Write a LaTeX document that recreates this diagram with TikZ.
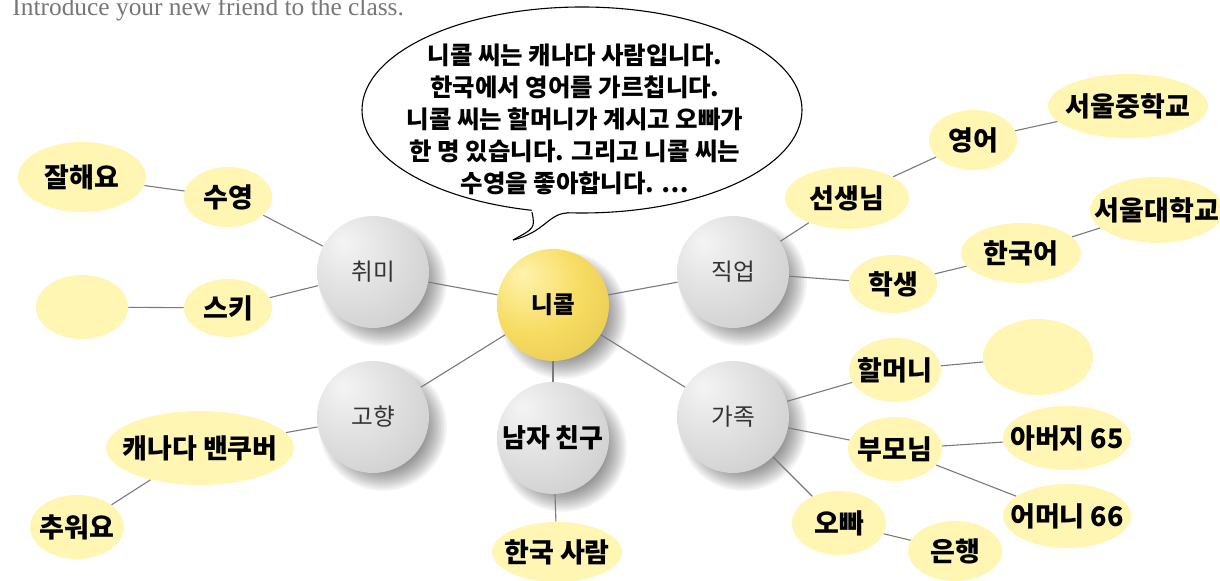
\documentclass[tikz,border=0pt]{standalone}
\usepackage{fontspec}
\setmainfont{Liberation Serif}
\newfontfamily\kr{Noto Sans CJK KR}
\usetikzlibrary{shapes.geometric}
\definecolor{ellfill}{HTML}{FFF6B4}
\definecolor{linegray}{HTML}{7A7A7A}
\definecolor{titlegray}{HTML}{777777}
\definecolor{labgray}{HTML}{333333}
\definecolor{gA}{HTML}{F4F4F4}
\definecolor{gB}{HTML}{DEDEDE}
\definecolor{gC}{HTML}{C4C4C4}
\definecolor{gD}{HTML}{A6A6A6}
\definecolor{yA}{HTML}{FFF3AE}
\definecolor{yB}{HTML}{F7DC62}
\definecolor{yC}{HTML}{E0C04A}
\definecolor{yD}{HTML}{C2A235}
\pgfdeclareradialshading{graysph}{\pgfpoint{-14bp}{14bp}}{color(0bp)=(gA); color(22bp)=(gB); color(48bp)=(gC); color(68bp)=(gD)}
\pgfdeclareradialshading{yellowsph}{\pgfpoint{-14bp}{14bp}}{color(0bp)=(yA); color(22bp)=(yB); color(48bp)=(yC); color(68bp)=(yD)}
\newcommand\sphshadow[2]{\foreach \r in {20,20.75,...,32}{\fill[black,opacity=0.035] (#1+10,#2+10) circle[radius=\r pt];}}
\newcommand\lbl[1]{\makebox[0pt][c]{#1}}
\tikzset{
  leaf/.style 2 args={ellipse, fill=ellfill, inner sep=0pt, minimum width=#1pt, minimum height=#2pt, font=\kr\bfseries\fontsize{13.5}{15}\selectfont},
  sphere/.style={circle, inner sep=0pt, minimum size=56pt, shading=graysph, text=labgray, font=\kr\fontsize{11.8}{13}\selectfont},
  ysphere/.style={circle, inner sep=0pt, minimum size=56pt, shading=yellowsph, font=\kr\bfseries\fontsize{11.8}{13}\selectfont},
  conn/.style={draw=linegray, line width=0.55pt},
  bubline/.style={draw=black, line width=0.55pt}
}
\begin{document}
\begin{tikzpicture}[x=0.5pt,y=-0.5pt]
\useasboundingbox (0,0) rectangle (1220,581);
\clip (0,0) rectangle (1220,581);
% title
\node[anchor=base west, inner sep=0pt, text=titlegray, font=\fontsize{12.7}{14}\selectfont] (title) at (12,16) {Introduce your new friend to the class.};
% shadows
\sphshadow{553}{305}
\sphshadow{373}{272}
\sphshadow{373}{417}
\sphshadow{553}{438}
\sphshadow{733}{272}
\sphshadow{733}{417}
% spheres
\node[ysphere] (nicole) at (553,305) {니콜};
\node[sphere] (chwimi) at (373,272) {취미};
\node[sphere] (gohyang) at (373,417) {고향};
\node[sphere, text=black, font=\kr\bfseries\fontsize{13}{14}\selectfont] (namja) at (553,438) {남자 친구};
\node[sphere] (jigeop) at (733,272) {직업};
\node[sphere] (gajok) at (733,417) {가족};
% leaves
\node[leaf={64}{35}] (jal) at (82,177) {\lbl{잘해요}};
\node[leaf={44}{30}] (suyeong) at (228,197) {\lbl{수영}};
\node[leaf={46}{32}] (blankA) at (82,307) {};
\node[leaf={44}{29}] (ski) at (228,308) {\lbl{스키}};
\node[leaf={94}{37}] (canada) at (200,448) {\lbl{캐나다 밴쿠버}};
\node[leaf={47}{32}] (chuwo) at (77,527) {\lbl{추워요}};
\node[leaf={65}{30}] (hanguk) at (557,552) {\lbl{한국 사람}};
\node[leaf={62}{31}] (seonsaeng) at (847,198) {\lbl{선생님}};
\node[leaf={44}{30}] (yeongeo) at (973,140) {\lbl{영어}};
\node[leaf={80}{32}] (seoulmid) at (1128,106) {\lbl{서울중학교}};
\node[leaf={44}{29}] (haksaeng) at (893,284) {\lbl{학생}};
\node[leaf={60}{30}] (hangugeo) at (1021,253) {\lbl{한국어}};
\node[leaf={67}{33}] (seouluni) at (1157,210) {\lbl{서울대학교}};
\node[leaf={46}{32}] (halmeoni) at (895,370) {\lbl{할머니}};
\node[leaf={55}{38}] (blankB) at (1038,357) {};
\node[leaf={47}{32}] (bumonim) at (895,449) {\lbl{부모님}};
\node[leaf={64}{32}] (abeoji) at (1067,438) {\lbl{아버지 65}};
\node[leaf={64}{32}] (eomeoni) at (1067,516) {\lbl{어머니 66}};
\node[leaf={47}{32}] (oppa) at (839,523) {\lbl{오빠}};
\node[leaf={47}{30}] (eunhaeng) at (955,551) {\lbl{은행}};
% connectors
\draw[conn] (nicole) -- (chwimi);
\draw[conn] (nicole) -- (gohyang);
\draw[conn] (nicole) -- (namja);
\draw[conn] (nicole) -- (jigeop);
\draw[conn] (nicole) -- (gajok);
\draw[conn] (chwimi) -- (suyeong);
\draw[conn] (suyeong) -- (jal);
\draw[conn] (chwimi) -- (ski);
\draw[conn] (ski) -- (blankA);
\draw[conn] (gohyang) -- (canada);
\draw[conn] (canada) -- (chuwo);
\draw[conn] (namja) -- (hanguk);
\draw[conn] (jigeop) -- (seonsaeng);
\draw[conn] (seonsaeng) -- (yeongeo);
\draw[conn] (yeongeo) -- (seoulmid);
\draw[conn] (jigeop) -- (haksaeng);
\draw[conn] (haksaeng) -- (hangugeo);
\draw[conn] (hangugeo) -- (seouluni);
\draw[conn] (gajok) -- (halmeoni);
\draw[conn] (halmeoni) -- (blankB);
\draw[conn] (gajok) -- (bumonim);
\draw[conn] (bumonim) -- (abeoji);
\draw[conn] (bumonim) -- (eomeoni);
\draw[conn] (gajok) -- (oppa);
\draw[conn] (oppa) -- (eunhaeng);
% speech bubble
\node[ellipse, draw=black, line width=0.55pt, fill=white, inner sep=0pt, minimum width=220pt, minimum height=103pt] (bubble) at (582,110) {};
\coordinate (tailL) at (532,212);
\coordinate (tailT) at (513,240);
\coordinate (tailR) at (567,213);
\fill[white] (530,200) -- (tailL) .. controls (535,228) .. (tailT) .. controls (545,232) and (548,214) .. (tailR) -- (570,200) -- cycle;
\draw[bubline] (tailL) .. controls (535,228) .. (tailT);
\draw[bubline] (tailT) .. controls (545,232) and (548,214) .. (tailR);
\node[align=center, inner sep=0pt, font=\kr\bfseries\fontsize{12.2}{16}\selectfont] (bubtext) at (575,119) {니콜 씨는 캐나다 사람입니다.\\한국에서 영어를 가르칩니다.\\니콜 씨는 할머니가 계시고 오빠가\\한 명 있습니다. 그리고 니콜 씨는\\수영을 좋아합니다. …};
\end{tikzpicture}
\end{document}
